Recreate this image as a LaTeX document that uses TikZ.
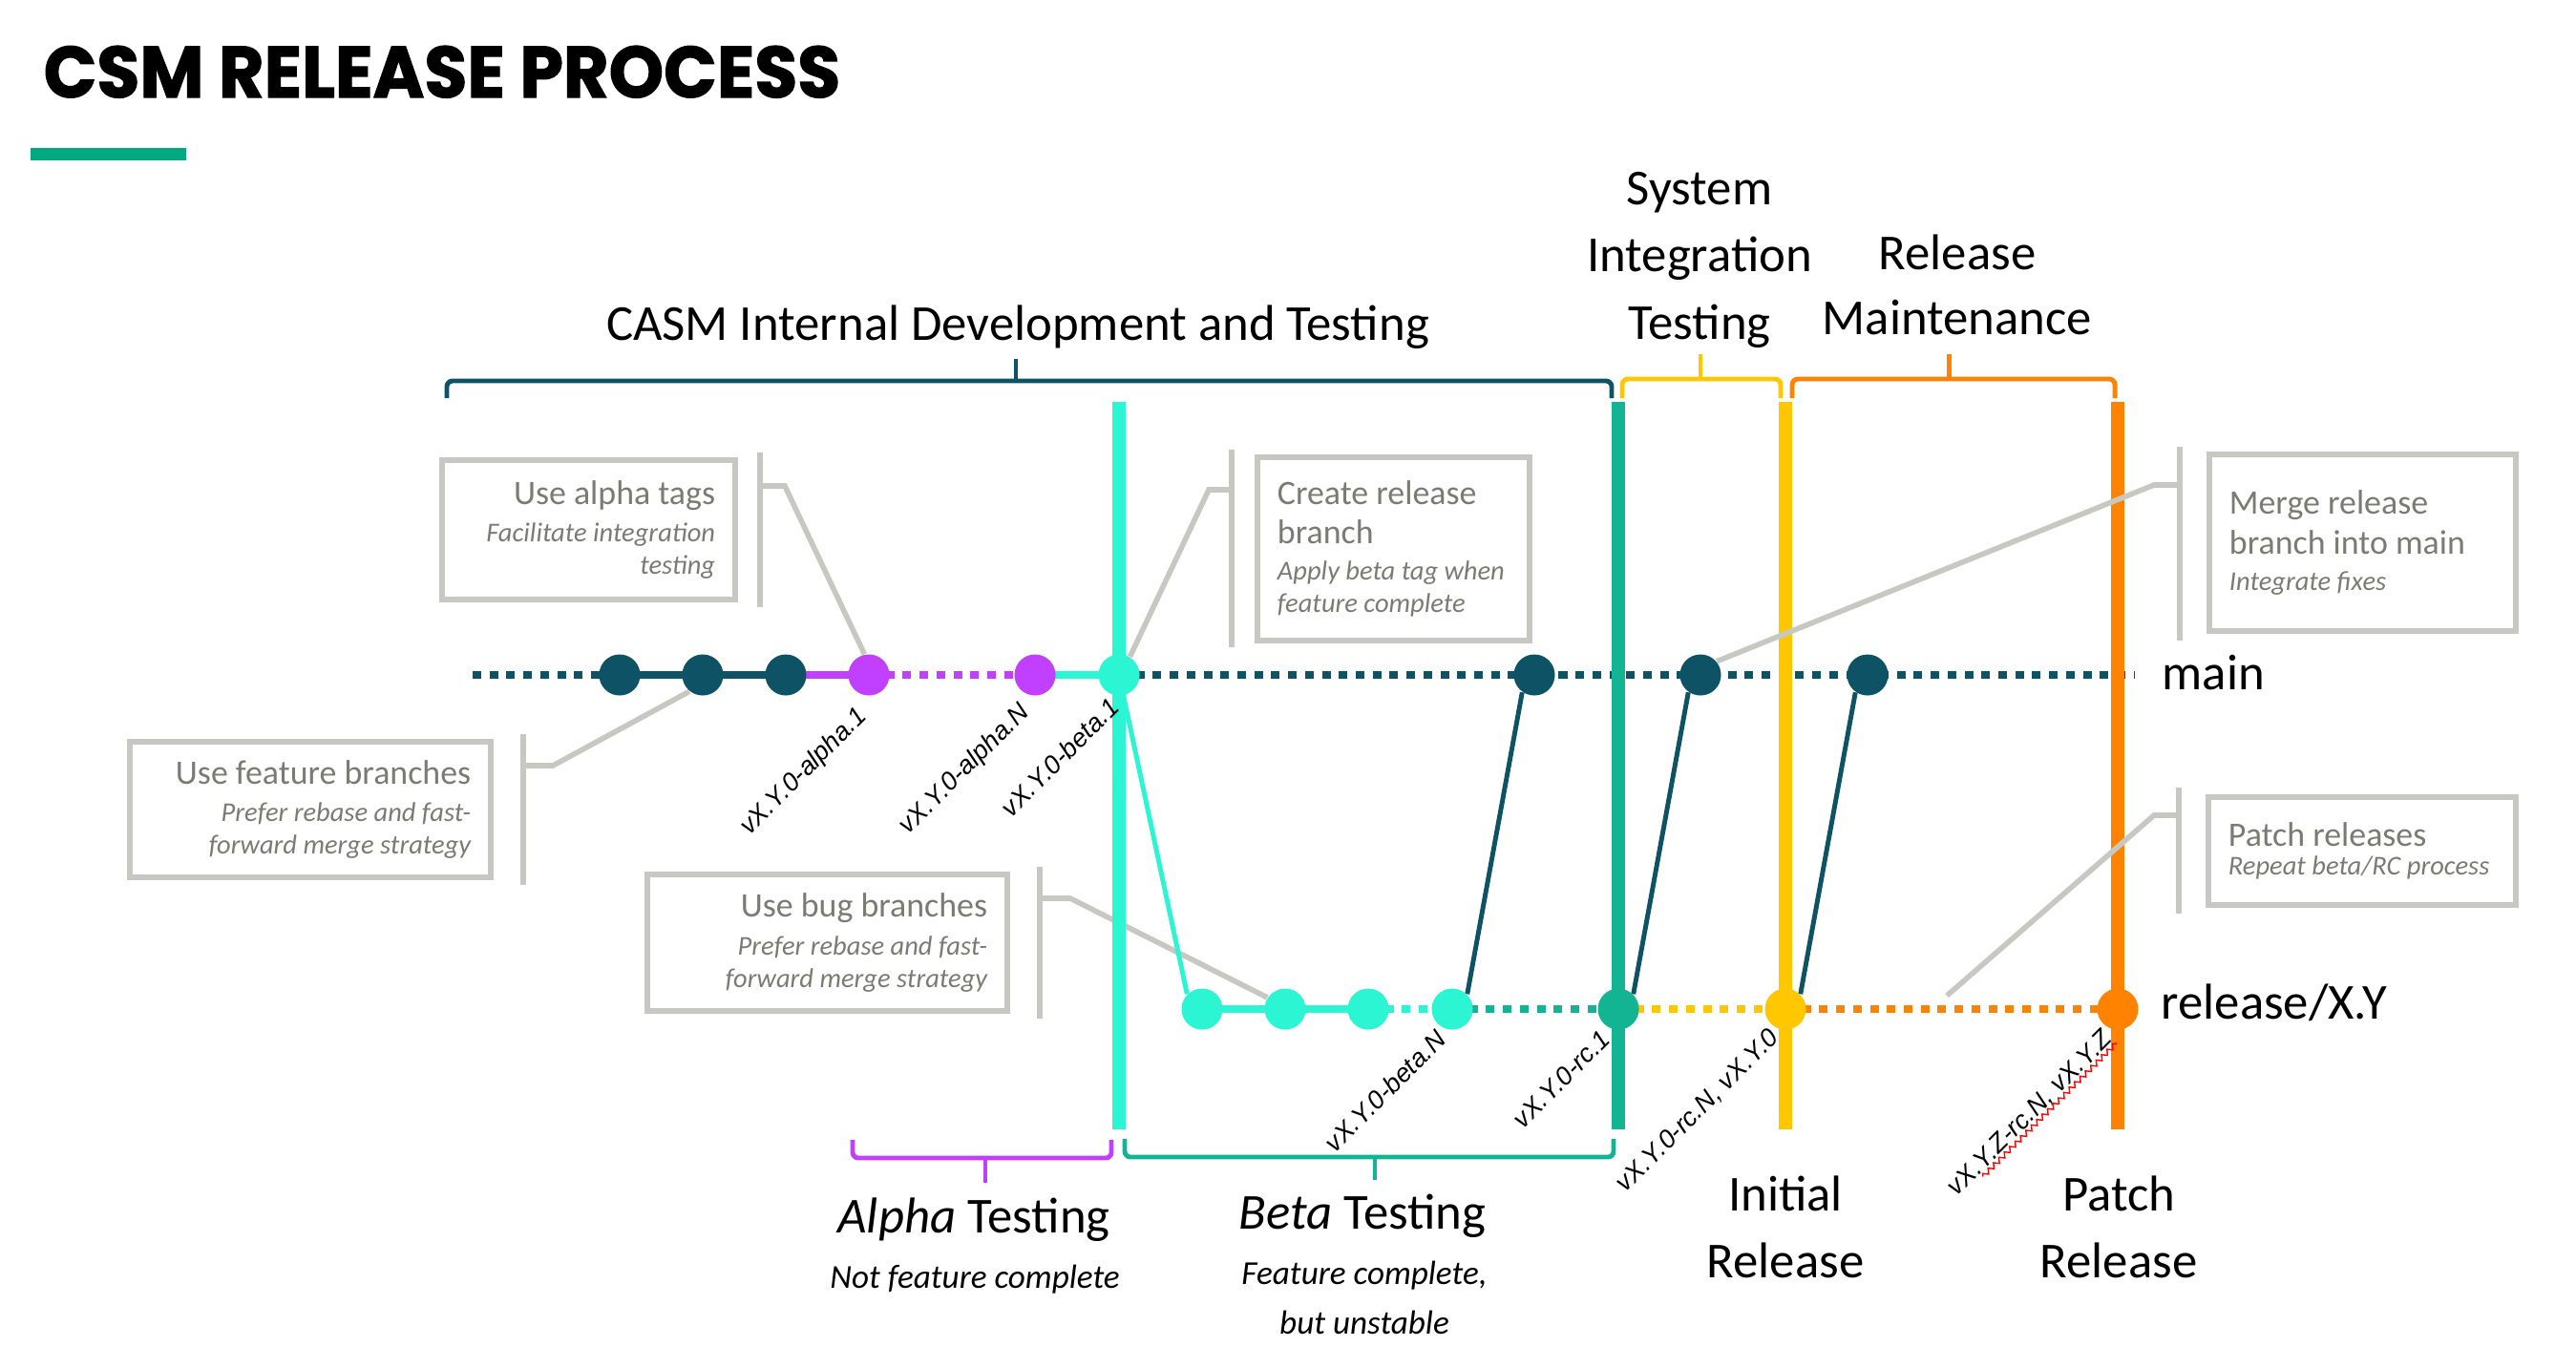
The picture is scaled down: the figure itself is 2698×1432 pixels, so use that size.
\documentclass[tikz,border=0pt]{standalone}
\usepackage{fontspec}
\setmainfont{Carlito}
\newfontfamily\tagfont{Liberation Sans}
\newfontfamily\titlefont{Poppins}[BoldFeatures={FakeBold=1.6}]
\usepackage{xcolor}
\usepackage{graphicx}
\usepackage{tikz}
\usetikzlibrary{calc, decorations.pathmorphing}
\setlength{\parindent}{0pt}
\definecolor{darkteal}{HTML}{0E5265}
\definecolor{alphapurple}{HTML}{C140FF}
\definecolor{betacyan}{HTML}{2BF5D2}
\definecolor{rcgreen}{HTML}{13B493}
\definecolor{releaseyellow}{HTML}{FFC700}
\definecolor{patchorange}{HTML}{FF8300}
\definecolor{hpegreen}{HTML}{01A982}
\definecolor{calloutgray}{HTML}{C8C8C3}
\definecolor{calltext}{HTML}{7B7B72}
\tikzstyle{commit} = [circle, inner sep=0pt, minimum size=4.3mm]
\tikzstyle{branch} = [line width=2.3pt]
\tikzstyle{dotline} = [line width=2.3pt, dash pattern=on 0.9mm off 0.87mm]
\tikzstyle{stage} = [line width=4pt]
\tikzstyle{merge} = [line width=1.4pt]
\tikzstyle{brace} = [line width=1.4pt, rounded corners=0.6mm]
\tikzstyle{callout} = [draw=calloutgray, line width=1.7pt, inner xsep=2.1mm, inner ysep=0pt, text=calltext]
\tikzstyle{leader} = [draw=calloutgray, line width=1.6pt]
\tikzstyle{tag} = [font=\tagfont\itshape\fontsize{7.7}{9}\selectfont, rotate=45, anchor=north east, inner sep=0pt]
\tikzstyle{phase} = [font=\fontsize{15}{18}\selectfont, anchor=base, inner sep=0pt]
\tikzstyle{phasenote} = [font=\itshape\fontsize{10}{12}\selectfont, anchor=base, inner sep=0pt]
\newcommand{\callhead}[1]{{\fontsize{10.2}{11.7}\selectfont\spaceskip=0pt\xspaceskip=0pt\mbox{#1}\par}}
\newcommand{\callnote}[1]{{\itshape\fontsize{8.1}{9.6}\selectfont\spaceskip=0pt\xspaceskip=0pt\mbox{#1}\par}}
\pgfdeclarelayer{back}
\pgfdeclarelayer{mid}
\pgfsetlayers{back,mid,main}

\begin{document}
\begin{tikzpicture}[x=0.01cm, y=-0.01cm]
            \useasboundingbox (0,0) rectangle (2698,1432);
            \node[anchor=base west, inner sep=0pt] (title) at (45,102) {\resizebox{8.34cm}{0.54cm}{\titlefont\bfseries CSM RELEASE PROCESS}};
            \fill[hpegreen] (32,155) rectangle (195,168);
            \coordinate (stagetop) at (0,421);
            \coordinate (stagebottom) at (0,1183);
            \coordinate (mainstart) at (495,707);
            \coordinate (mainend) at (2236,707);
            \node[commit, fill=darkteal] (m1) at (649,707) {};
            \node[commit, fill=darkteal] (m2) at (736,707) {};
            \node[commit, fill=darkteal] (m3) at (823,707) {};
            \node[commit, fill=alphapurple] (a1) at (910,707) {};
            \node[commit, fill=alphapurple] (a2) at (1084,707) {};
            \node[commit, fill=betacyan] (b1) at (1172,707) {};
            \node[commit, fill=darkteal] (m4) at (1607,707) {};
            \node[commit, fill=darkteal] (m5) at (1781,707) {};
            \node[commit, fill=darkteal] (m6) at (1956,707) {};
            \node[commit, fill=betacyan] (r1) at (1259,1057) {};
            \node[commit, fill=betacyan] (r2) at (1346,1057) {};
            \node[commit, fill=betacyan] (r3) at (1433,1057) {};
            \node[commit, fill=betacyan] (r4) at (1521,1057) {};
            \node[commit, fill=rcgreen] (rc) at (1695,1057) {};
            \node[commit, fill=releaseyellow] (ir) at (1870,1057) {};
            \node[commit, fill=patchorange] (pr) at (2218,1057) {};
            \begin{pgfonlayer}{back}
            \draw[dotline, darkteal] (mainstart) -- (m1.center);
            \draw[branch, darkteal] (m1.center) -- (m2.center) -- (m3.center);
            \draw[branch, alphapurple] (m3.center) -- (a1.center);
            \draw[dotline, alphapurple] (a1.center) -- (a2.center);
            \draw[branch, betacyan] (a2.center) -- (b1.center);
            \draw[dotline, darkteal] (b1.center) -- (mainend);
            \draw[branch, betacyan] (r1.center) -- (r2.center) -- (r3.center);
            \draw[dotline, betacyan] (r3.center) -- (r4.center);
            \draw[dotline, rcgreen] (r4.center) -- (rc.center);
            \draw[dotline, releaseyellow] (rc.center) -- (ir.center);
            \draw[dotline, patchorange] (ir.center) -- (pr.center);
            \draw[leader] (r2.147) -- (1121,941) -- (1089,941);
            \end{pgfonlayer}
            \begin{pgfonlayer}{mid}
            \draw[stage, betacyan] (b1 |- stagetop) -- (b1 |- stagebottom);
            \draw[stage, rcgreen] (rc |- stagetop) -- (rc |- stagebottom);
            \draw[stage, releaseyellow] (ir |- stagetop) -- (ir |- stagebottom);
            \draw[stage, patchorange] (pr |- stagetop) -- (pr |- stagebottom);
            \draw[merge, betacyan] (b1.center) -- (r1.135);
            \draw[merge, darkteal] (r4.45) -- (m4.235);
            \draw[merge, darkteal] (rc.45) -- (m5.235);
            \draw[merge, darkteal] (ir.45) -- (m6.235);
            \draw[leader] (a1.102) -- (822,509) -- (796,509);
            \draw[leader] (m2.231) -- (579,802) -- (548,802);
            \draw[leader] (b1.59) -- (1266,513) -- (1290,513);
            \draw[leader] (m5.40) -- (2256,508) -- (2283,508);
            \coordinate (patchend) at (2039,1043);
            \draw[leader] (patchend) -- (2256,854) -- (2282,854);
            \end{pgfonlayer}
            \node[tag] (tagA1) at ([shift={(-15,30)}]a1.center) {vX.Y.0-alpha.1};
            \node[tag] (tagAN) at ([shift={(-19,26)}]a2.center) {vX.Y.0-alpha.N};
            \node[tag] (tagB1) at ([shift={(-12,21)}]b1.center) {vX.Y.0-beta.1};
            \node[tag] (tagBN) at ([shift={(-19,19)}]r4.center) {vX.Y.0-beta.N};
            \node[tag] (tagRC) at ([shift={(-20,19)}]rc.center) {vX.Y.0-rc.1};
            \node[tag] (tagIR) at ([shift={(-19,17)}]ir.center) {vX.Y.0-rc.N, vX.Y.0};
            \node[tag] (tagPR) at ([shift={(-18,19)}]pr.center) {vX.Y.Z-rc.N, vX.Y.Z};
            \draw[red, line width=0.4pt, decorate, decoration={zigzag, segment length=0.8mm, amplitude=0.25mm}] ($(tagPR.south west)!0.15!(tagPR.south east)$) -- (tagPR.south east);
            \draw[brace, darkteal] (468,417) |- (1688,399) -- (1688,417);
            \draw[brace, darkteal] (1064,399) -- (1064,376);
            \draw[brace, releaseyellow] (1699,417) |- (1865,397) -- (1865,417);
            \draw[brace, releaseyellow] (1781,397) -- (1781,371);
            \draw[brace, patchorange] (1877,417) |- (2215,397) -- (2215,417);
            \draw[brace, patchorange] (2041,397) -- (2041,371);
            \draw[brace, alphapurple] (893,1194) |- (1164,1213) -- (1164,1194);
            \draw[brace, alphapurple] (1032,1213) -- (1032,1239);
            \draw[brace, rcgreen] (1178,1193) |- (1690,1212) -- (1690,1193);
            \draw[brace, rcgreen] (1440,1212) -- (1440,1236);
            \node[phase] (casmlabel) at (1066,356) {CASM Internal Development and Testing};
            \node[phase] (sitlabel1) at (1780,214) {System};
            \node[phase] (sitlabel2) at (1780,284) {Integration};
            \node[phase] (sitlabel3) at (1780,355) {Testing};
            \node[phase] (rmlabel1) at (2050,282) {Release};
            \node[phase] (rmlabel2) at (2050,350) {Maintenance};
            \node[phase] (alphalabel) at (1020,1291) {\textit{Alpha} Testing};
            \node[phasenote] (alphanote) at (1021,1349) {Not feature complete};
            \node[phase] (betalabel) at (1427,1287) {\textit{Beta} Testing};
            \node[phasenote] (betanote1) at (1429,1345) {Feature complete,};
            \node[phasenote] (betanote2) at (1429,1397) {but unstable};
            \node[phase] (initlabel1) at (1870,1268) {Initial};
            \node[phase] (initlabel2) at (1870,1338) {Release};
            \node[phase] (patchlabel1) at (2219,1268) {Patch};
            \node[phase] (patchlabel2) at (2219,1338) {Release};
            \node[phase, anchor=base west] (mainlabel) at (2264,722) {main};
            \node[phase, anchor=base west] (releaselabel) at (2263,1067) {release/X.Y};
            \node[callout, text width=2.65cm, minimum height=1.46cm, align=right] (alphabox) at (616.5,555) {\callhead{Use alpha tags}\vspace{1.6pt}\callnote{Facilitate integration}\callnote{testing}};
            \draw[leader] (796,474) -- (796,636);
            \node[callout, text width=3.36cm, minimum height=1.42cm, align=right] (featurebox) at (325,848) {\callhead{Use feature branches}\vspace{1.6pt}\callnote{Prefer rebase and fast-}\callnote{forward merge strategy}};
            \draw[leader] (548,769) -- (548,927);
            \node[callout, text width=3.35cm, minimum height=1.43cm, align=right] (bugbox) at (866.5,987.5) {\callhead{Use bug branches}\vspace{1.6pt}\callnote{Prefer rebase and fast-}\callnote{forward merge strategy}};
            \draw[leader] (1089,908) -- (1089,1067);
            \node[callout, text width=2.43cm, minimum height=1.92cm, align=left] (createbox) at (1459.5,575) {\callhead{Create release}\callhead{branch}\vspace{1.2pt}\callnote{Apply beta tag when}\callnote{feature complete}};
            \draw[leader] (1290,471) -- (1290,678);
            \node[callout, text width=2.79cm, minimum height=1.85cm, align=left] (mergebox) at (2474.5,568.5) {\callhead{Merge release}\callhead{branch into main}\vspace{1.2pt}\callnote{Integrate fixes}};
            \draw[leader] (2283,468) -- (2283,671);
            \node[callout, text width=2.80cm, minimum height=1.13cm, align=left] (patchbox) at (2474,891.5) {\callhead{Patch releases}\vspace{-1.2pt}\callnote{Repeat beta/RC process}};
            \draw[leader] (2282,825) -- (2282,957);
\end{tikzpicture}
\end{document}
